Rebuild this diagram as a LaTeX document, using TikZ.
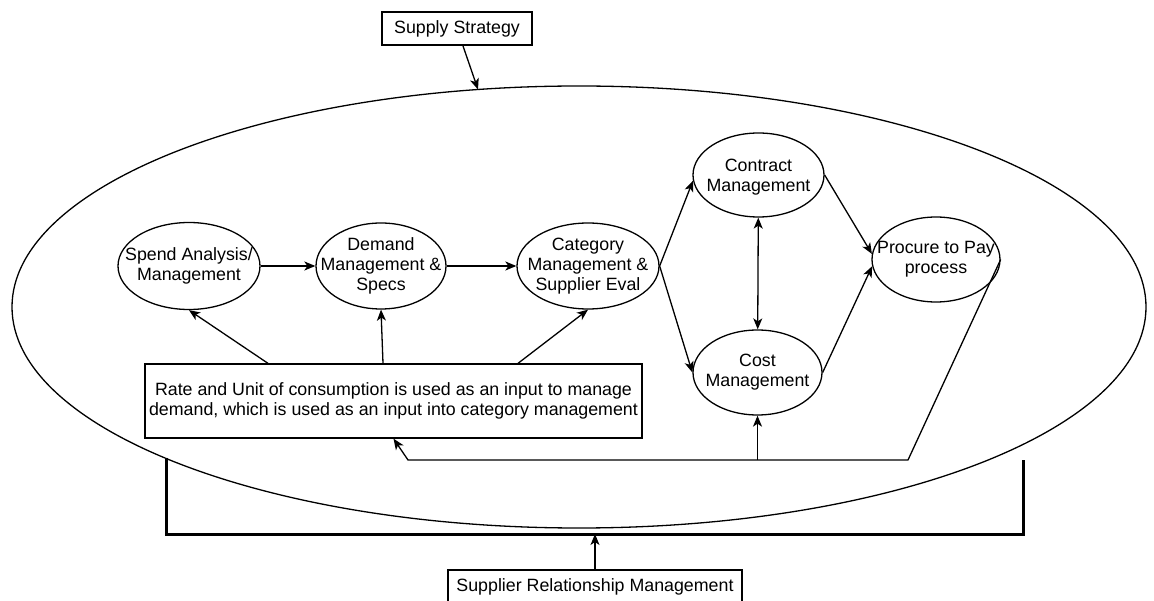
\documentclass[tikz,border=0pt]{standalone}
\usepackage{fontspec}
\setmainfont{Liberation Sans}
\usetikzlibrary{arrows.meta,shapes.geometric}

\begin{document}
\begin{tikzpicture}[x=1pt, y=1pt, line width=1.3pt,
  every node/.style={font=\fontsize{17.8}{20}\selectfont, align=center},
  proc/.style={draw, ellipse, inner sep=0pt},
  box/.style={draw, rectangle, inner sep=0pt},
  arr/.style={-{Stealth[length=11pt, width=9pt, inset=3pt]}},
  darr/.style={{Stealth[length=11pt, width=9pt, inset=3pt]}-{Stealth[length=11pt, width=9pt, inset=3pt]}},
  frame/.style={line width=3pt}]
\useasboundingbox (0,0) rectangle (1154,600);
% outer scope
\draw (579,293) ellipse [x radius=567, y radius=221];
\coordinate (rim) at (478,510.5);
\node[box, minimum width=150pt, minimum height=33pt] (supply) at (457,571.5){Supply Strategy};
\draw[arr](supply) -- (rim);
% process chain
\node[proc, minimum width=142pt, minimum height=87pt] (spend) at (189,334){};
\node (spendtxt) at (spend){Spend Analysis/\\Management};
\node[proc, minimum width=130pt, minimum height=86pt] (demand) at (381,334){};
\node (demandtxt) at (demand){Demand\\Management \&\\Specs};
\node[proc, minimum width=142pt, minimum height=86pt] (category) at (588,334){};
\node (categorytxt) at (category){Category\\Management \&\\Supplier Eval};
\draw[arr](spend) -- (demand);
\draw[arr](demand) -- (category);
\node[proc, minimum width=131pt, minimum height=84pt] (contract) at (758.5,425){};
\node (contracttxt) at ([yshift=-2pt]contract.center){Contract\\Management};
\node[proc, minimum width=129pt, minimum height=85pt] (cost) at (757.5,227.5){};
\node (costtxt) at (cost){Cost\\Management};
\node[proc, minimum width=128pt, minimum height=85pt] (procure) at (936,340.5){};
\node (procuretxt) at (procure){Procure to Pay\\process};
\draw[arr](category.east) -- (contract.185);
\draw[arr](category.east) -- (cost.west);
\draw[darr](contract) -- (cost);
\draw[arr](contract.east) -- (procure.175);
\draw[arr](cost.east) -- (procure.186);
% consumption input
\node[box, minimum width=497pt, minimum height=74pt] (rate) at (393.5,199){Rate and Unit of consumption is used as an input to manage\\demand, which is used as an input into category management};
\draw[arr]([xshift=-125.5pt]rate.north) -- (spend.south);
\draw[arr]([xshift=-10.5pt]rate.north) -- (demand.south);
\draw[arr]([xshift=124.5pt]rate.north) -- (category.south);
% feedback from payment
\coordinate (fbturn) at (908,140);
\coordinate (fbend) at (408,140);
\coordinate (fbcost) at (757.5,140);
\draw[arr](procure.east) -- (fbturn) -- (fbend) -- (rate.south);
\draw[arr](fbcost) -- (cost.south);
% relationship bracket
\coordinate (brl) at (166,142);
\coordinate (brr) at (1023,140);
\coordinate (brmid) at (595,66);
\draw[frame](brl) -- (166,66) -- (1023,66) -- (brr);
\node[box, minimum width=294pt, minimum height=33pt] (srm) at (595,13.5){Supplier Relationship Management};
\draw[arr](srm) -- (brmid);
\end{tikzpicture}
\end{document}
